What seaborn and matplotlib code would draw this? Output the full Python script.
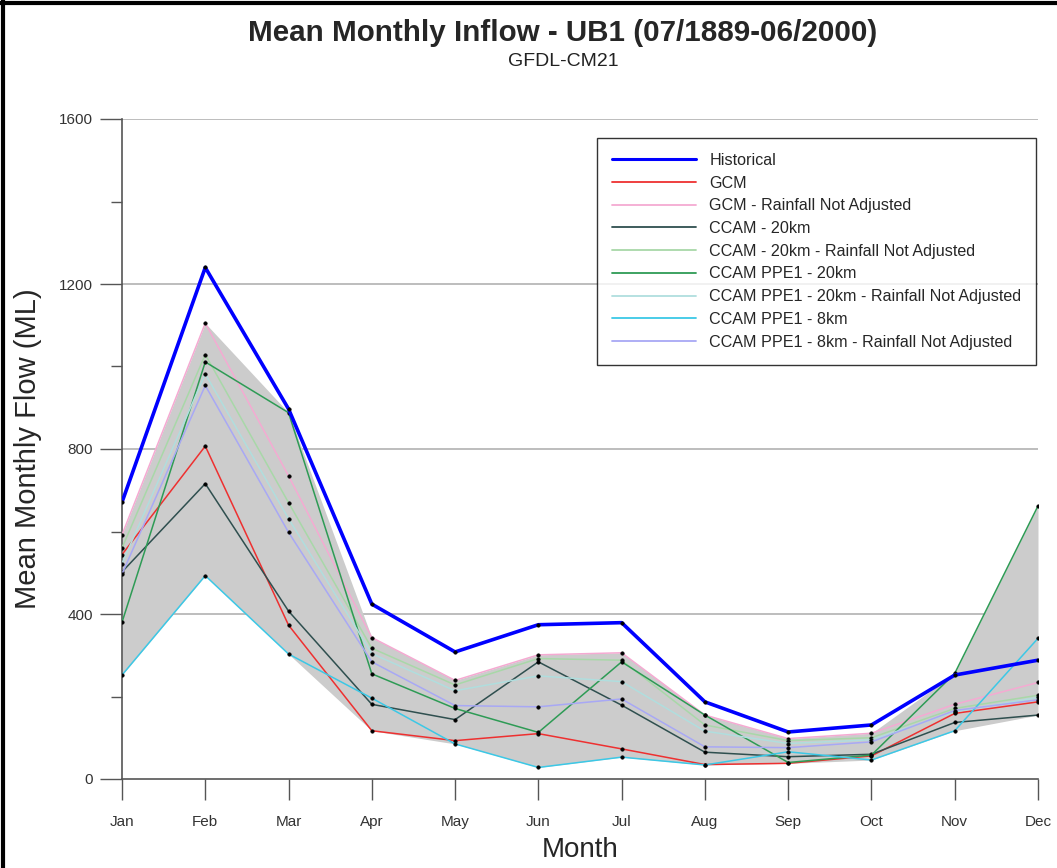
import matplotlib
matplotlib.use("Agg")
import matplotlib.pyplot as plt
from matplotlib.lines import Line2D
from matplotlib.ticker import MultipleLocator
import numpy as np
import pandas as pd
import seaborn as sns

months = ["Jan", "Feb", "Mar", "Apr", "May", "Jun", "Jul", "Aug", "Sep", "Oct", "Nov", "Dec"]

historical = [671, 1240, 897, 424, 308, 374, 379, 187, 114, 131, 252, 288]
gcm = [544, 807, 373, 117, 93, 110, 73, 35, 38, 56, 159, 187]
gcm_rna = [592, 1105, 735, 343, 239, 301, 306, 155, 98, 111, 181, 234]
ccam20 = [502, 716, 407, 181, 144, 284, 179, 65, 54, 60, 137, 155]
ccam20_rna = [560, 1029, 670, 317, 228, 292, 288, 131, 93, 100, 171, 203]
ppe1_20 = [380, 1011, 888, 255, 171, 113, 284, 155, 40, 58, 256, 662]
ppe1_20_rna = [522, 982, 631, 304, 214, 250, 236, 116, 86, 95, 163, 198]
ppe1_8 = [252, 493, 303, 196, 85, 28, 53, 34, 66, 46, 117, 341]
ppe1_8_rna = [497, 954, 598, 284, 178, 175, 194, 78, 76, 90, 166, 192]

series_names = [
    "Historical", "GCM", "GCM - Rainfall Not Adjusted", "CCAM - 20km",
    "CCAM - 20km - Rainfall Not Adjusted", "CCAM PPE1 - 20km",
    "CCAM PPE1 - 20km - Rainfall Not Adjusted", "CCAM PPE1 - 8km",
    "CCAM PPE1 - 8km - Rainfall Not Adjusted",
]
series_values = [historical, gcm, gcm_rna, ccam20, ccam20_rna, ppe1_20,
                 ppe1_20_rna, ppe1_8, ppe1_8_rna]
colors = ["#0000FF", "#EE3030", "#F5AAD2", "#2F4F4F", "#A8D8A8", "#2E9B55",
          "#B0DEDE", "#3CC8E6", "#A8A8F5"]
widths = [2.6, 1.1, 1.1, 1.1, 1.1, 1.1, 1.1, 1.1, 1.1]

x = np.arange(len(months))
df = pd.DataFrame({
    "series": np.repeat(series_names, len(months)),
    "month": np.tile(x, len(series_names)),
    "flow": np.concatenate([np.array(v, dtype=float) for v in series_values]),
})

sns.set_style("white")
plt.rcParams["font.family"] = ["Liberation Sans", "DejaVu Sans"]

W, H = 1057, 868
fig = plt.figure(figsize=(W / 100, H / 100), dpi=100)
ax = fig.add_axes([122 / W, 1 - 779 / H, (1038 - 122) / W, (779 - 119) / H])

# envelope of the scenario runs
scen = np.array(series_values[1:], dtype=float)
ax.fill_between(x, scen.min(axis=0), scen.max(axis=0), color="#CCCCCC", lw=0, zorder=1)

# gridlines
for yv in [400, 800, 1200, 1600]:
    ax.axhline(yv, color="#BDBDBD", lw=1.4, zorder=0.5)

order = list(range(1, len(series_names))) + [0]
for i in order:
    name = series_names[i]
    sub = df[df["series"] == name]
    sns.lineplot(data=sub, x="month", y="flow", ax=ax, color=colors[i], lw=widths[i],
                 marker="o", markersize=2.6, markerfacecolor="black",
                 markeredgecolor="black", markeredgewidth=0.3,
                 zorder=3 + (5 if i == 0 else 0), legend=False)

ax.set_xlim(0, 11)
ax.set_ylim(0, 1600)
ax.set_xticks(x)
ax.set_xticklabels(months, fontsize=11, color="#333333")
ax.yaxis.set_major_locator(MultipleLocator(400))
ax.yaxis.set_minor_locator(MultipleLocator(200))
ax.tick_params(axis="y", which="major", length=16, width=1, color="#555555",
               labelsize=11, labelcolor="#333333", pad=5, direction="out", left=True)
ax.tick_params(axis="y", which="minor", length=8, width=1, color="#555555", left=True)
ax.tick_params(axis="x", which="major", length=15, width=1, color="#555555", pad=11,
               direction="out", bottom=True)
for s in ["top", "right"]:
    ax.spines[s].set_visible(False)
for s in ["left", "bottom"]:
    ax.spines[s].set_color("#555555")
    ax.spines[s].set_linewidth(1.2)
ax.set_xlabel("Month", fontsize=20, labelpad=2)
ax.xaxis.set_label_coords(0.5, -(850 - 779) / (779 - 119), transform=ax.transAxes)
ax.xaxis.label.set_va("center")
ax.set_ylabel("Mean Monthly Flow (ML)", fontsize=21, labelpad=12)

handles = [Line2D([0], [0], color=colors[i], lw=(2.2 if i == 0 else 1.3)) for i in range(len(series_names))]
leg = ax.legend(handles, series_names, loc="upper left",
                bbox_to_anchor=(597 / W, 1 - 138 / H), bbox_transform=fig.transFigure,
                fontsize=11.6, frameon=True, fancybox=False, handlelength=5.2,
                handletextpad=0.85, labelspacing=0.48, borderpad=0.92, borderaxespad=0)
leg.get_frame().set_edgecolor("black")
leg.get_frame().set_linewidth(1.0)
leg.set_zorder(20)

fig.text(563 / W, 1 - 33 / H, "Mean Monthly Inflow - UB1 (07/1889-06/2000)",
         ha="center", va="center", fontsize=21.3, fontweight="bold")
fig.text(563 / W, 1 - 61 / H, "GFDL-CM21", ha="center", va="center", fontsize=14,
         color="#222222")

# outer frame lines (top and left)
fig.add_artist(Line2D([0, 1], [1 - 3 / H, 1 - 3 / H], transform=fig.transFigure, color="black", lw=3))
fig.add_artist(Line2D([3 / W, 3 / W], [0, 1], transform=fig.transFigure, color="black", lw=3))

fig.savefig("out.png", dpi=100)
